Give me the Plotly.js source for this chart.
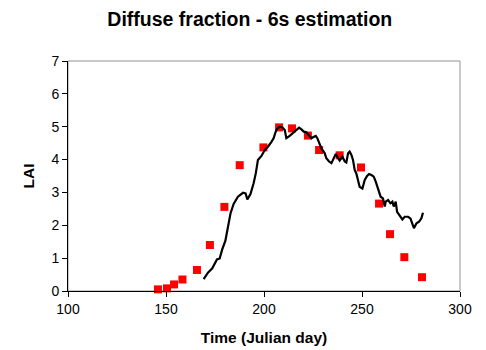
<!DOCTYPE html>
<html>
<head>
<meta charset="utf-8">
<script src="https://cdn.plot.ly/plotly-3.0.1.min.js"></script>
<style>html,body{margin:0;padding:0;background:#fff;}#chart{width:486px;height:350px;}</style>
</head>
<body>
<div id="chart"></div>
<script>
// Measured LAI (red squares)
const obsDay = [145.9,150.5,154.1,158.4,165.8,172.4,179.8,187.6,199.7,207.7,214.3,222.4,228.1,238.6,249.5,258.7,264.3,271.6,280.6];
const obsLAI = [0.05,0.08,0.20,0.35,0.64,1.40,2.56,3.83,4.37,4.98,4.95,4.73,4.29,4.13,3.76,2.66,1.73,1.03,0.42];

// Estimated LAI (black line)
const estDay = [169.2,171.4,173.6,174.8,176.0,177.4,178.6,180.3,181.6,182.9,184.5,186.7,189.3,190.6,191.5,193.1,194.7,195.8,196.9,198.7,200.4,202.0,203.8,204.9,205.8,206.6,208.0,
  209.4,210.6,211.4,213.1,214.8,216.5,217.9,219.1,220.3,221.6,223.0,224.2,225.0,226.4,227.2,228.1,229.3,231.0,231.8,233.2,234.4,235.2,236.6,237.8,238.6,240.0,241.2,242.0,242.9,243.7,244.6,245.4,246.3,247.1,248.0,248.8,250.2,251.4,252.6,253.6,254.8,256.0,257.0,258.2,259.5,260.7,261.6,262.1,263.3,264.5,265.5,266.2,267.2,267.9,269.2,270.6,271.8,273.5,274.7,275.7,276.5,277.8,279.1,280.3,281.1];
const estLAI = [0.36,0.56,0.69,0.84,0.96,0.99,1.25,1.53,1.96,2.36,2.65,2.87,2.99,2.97,2.79,2.95,3.28,3.58,3.99,4.11,4.29,4.39,4.54,4.65,4.82,4.93,5.00,
  4.98,4.90,4.65,4.72,4.80,4.90,4.97,4.92,4.85,4.83,4.72,4.65,4.68,4.72,4.65,4.49,4.34,4.19,4.04,3.94,3.89,3.99,4.17,4.04,3.97,4.09,3.94,3.91,4.19,4.24,4.14,3.99,3.68,3.58,3.38,3.17,3.12,3.38,3.50,3.56,3.53,3.48,3.33,3.07,2.87,2.82,2.57,2.72,2.77,2.67,2.72,2.57,2.72,2.41,2.31,2.18,2.26,2.26,2.21,2.06,1.91,2.06,2.11,2.21,2.38];

const xTicks = [100,150,200,250,300];
const yTicks = [0,1,2,3,4,5,6,7];

const traces = [
  {x: obsDay, y: obsLAI, type: 'scatter', mode: 'markers',
   marker: {symbol: 'square', size: 8, color: '#ff0000'}, cliponaxis: false, hoverinfo: 'skip'},
  {x: estDay, y: estLAI, type: 'scatter', mode: 'lines',
   line: {color: '#000000', width: 2.2}, hoverinfo: 'skip'}
];

const font = {family: 'Liberation Sans, Arial, sans-serif', color: '#000'};
const layout = {
  width: 486, height: 350,
  margin: {l: 68, r: 26, t: 61, b: 59},
  paper_bgcolor: '#fff', plot_bgcolor: '#fff',
  showlegend: false,
  font: Object.assign({size: 14}, font),
  title: {text: '<b>Diffuse fraction - 6s estimation</b>', font: Object.assign({size: 19.5}, font),
          x: 0.514, xref: 'container', xanchor: 'center', y: 0.946, yref: 'container', yanchor: 'middle'},
  xaxis: {range: [100, 300], tickvals: xTicks, ticktext: xTicks.map(String),
          showgrid: false, zeroline: false, showline: true, linecolor: '#000', linewidth: 1,
          ticks: 'outside', ticklen: 5, tickcolor: '#000', tickfont: Object.assign({size: 14}, font),
          title: {text: '<b>Time (Julian day)</b>', font: Object.assign({size: 15.5}, font), standoff: 16}},
  yaxis: {range: [0, 7], tickvals: yTicks, ticktext: yTicks.map(String),
          showgrid: false, zeroline: false, showline: true, linecolor: '#000', linewidth: 1,
          ticks: 'outside', ticklen: 5, tickcolor: '#000', tickfont: Object.assign({size: 14}, font),
          title: {text: '<b>LAI</b>', font: Object.assign({size: 15.5}, font), standoff: 12}},
  shapes: [
    {type: 'rect', xref: 'paper', yref: 'paper', x0: 0, x1: 1, y0: 0, y1: 1,
     line: {color: '#909090', width: 1}, layer: 'below'}
  ]
};

Plotly.newPlot('chart', traces, layout, {staticPlot: true, displayModeBar: false});
</script>
</body>
</html>
